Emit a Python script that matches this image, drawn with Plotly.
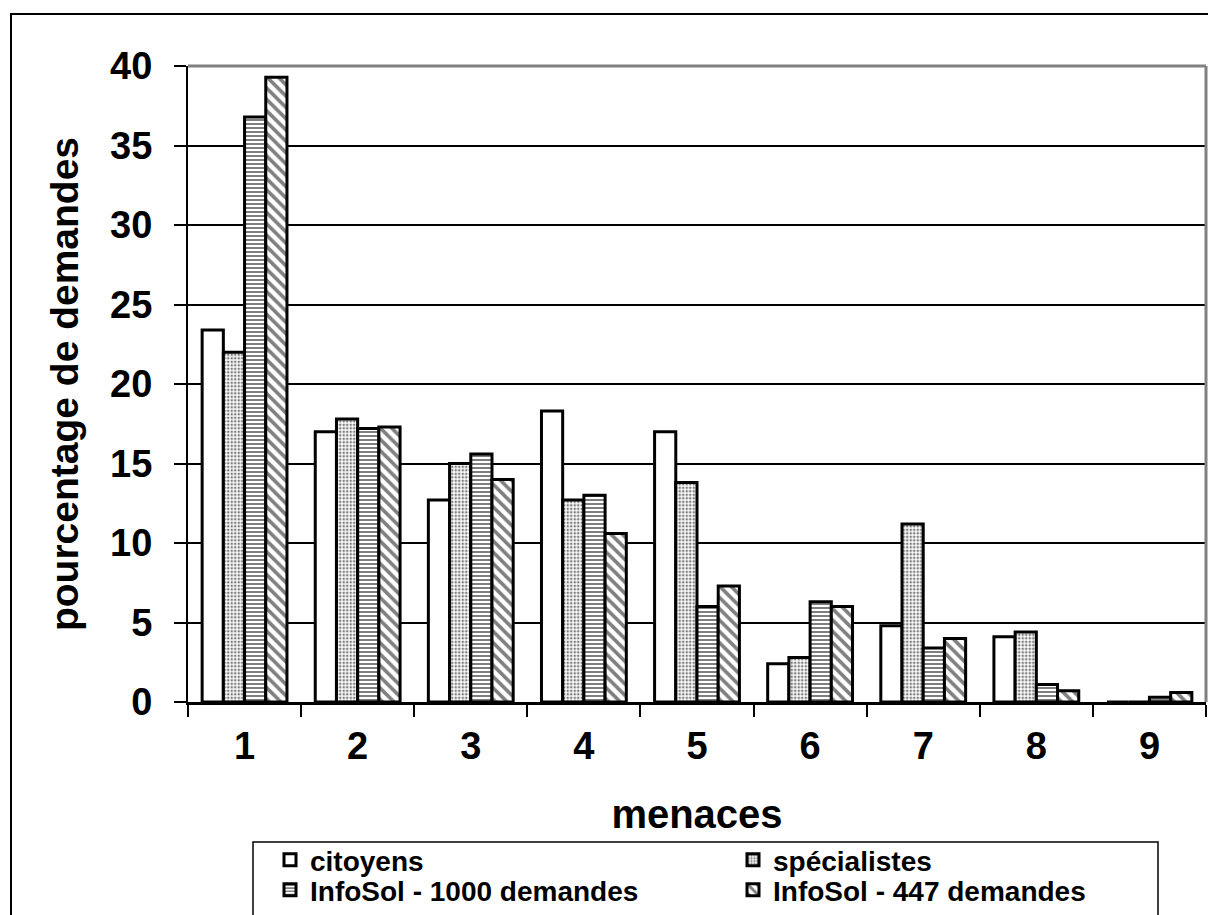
import plotly.graph_objects as go

categories = ["1", "2", "3", "4", "5", "6", "7", "8", "9"]
citoyens = [23.4, 17.0, 12.7, 18.3, 17.0, 2.4, 4.8, 4.1, 0.0]
specialistes = [22.0, 17.8, 15.0, 12.7, 13.8, 2.8, 11.2, 4.4, 0.0]
infosol_1000 = [36.8, 17.2, 15.6, 13.0, 6.0, 6.3, 3.4, 1.1, 0.3]
infosol_447 = [39.3, 17.3, 14.0, 10.6, 7.3, 6.0, 4.0, 0.7, 0.6]
series_names = ["citoyens", "spécialistes", "InfoSol - 1000 demandes", "InfoSol - 447 demandes"]
y_ticks = [0, 5, 10, 15, 20, 25, 30, 35, 40]

FONT = "Liberation Sans, Arial, sans-serif"
W, H = 1208, 915
L, R, T, B = 188, 2, 66, 213
PW, PH = W - L - R, H - T - B


def px_x(p):
    return (p - L) / PW


def px_y(p):
    return (H - B - p) / PH


patterns = [
    dict(shape=""),
    dict(shape=".", fgcolor="black", bgcolor="white", size=3.5, solidity=0.45),
    dict(shape="-", fgcolor="black", bgcolor="white", size=4, solidity=0.5),
    dict(shape="\\", fgcolor="black", bgcolor="white", size=8, solidity=0.45),
]
legend_ids = ["legend", "legend", "legend2", "legend2"]

fig = go.Figure()
for name, vals, pat, lg in zip(series_names, [citoyens, specialistes, infosol_1000, infosol_447], patterns, legend_ids):
    fig.add_trace(go.Bar(
        x=categories, y=vals, name=name, legend=lg,
        marker=dict(color="white", line=dict(color="black", width=3), pattern=pat),
    ))

shapes = [
    # outer frame
    dict(type="rect", xref="paper", yref="paper", x0=px_x(11), x1=1.05, y0=-0.6, y1=px_y(14),
         line=dict(color="black", width=2), fillcolor="rgba(0,0,0,0)", layer="below"),
    # grey top and right border of plot area
    dict(type="line", xref="paper", yref="paper", x0=0, x1=1, y0=1, y1=1,
         line=dict(color="#808080", width=3), layer="above"),
    dict(type="line", xref="paper", yref="paper", x0=1, x1=1, y0=0, y1=1,
         line=dict(color="#808080", width=3), layer="above"),
    # legend box
    dict(type="rect", xref="paper", yref="paper", x0=px_x(253), x1=px_x(1158), y0=-0.6, y1=px_y(842),
         line=dict(color="black", width=1.5), fillcolor="rgba(0,0,0,0)", layer="below"),
]

legend_common = dict(
    orientation="h", xanchor="left", yanchor="top",
    bgcolor="rgba(0,0,0,0)", borderwidth=0,
    font=dict(family=FONT, size=28, color="black", weight="bold"),
    entrywidth=418, entrywidthmode="pixels", traceorder="normal",
    itemwidth=30, tracegroupgap=0,
)

fig.update_layout(
    width=W, height=H,
    margin=dict(l=L, r=R, t=T, b=B, autoexpand=False),
    paper_bgcolor="white", plot_bgcolor="white",
    barmode="group", bargap=0.25, bargroupgap=0,
    font=dict(family=FONT, color="black", weight="bold"),
    shapes=shapes,
    showlegend=True,
    legend=dict(x=px_x(270), y=px_y(835), **legend_common),
    legend2=dict(x=px_x(270), y=px_y(865), **legend_common),
    xaxis=dict(
        type="category", categoryorder="array", categoryarray=categories,
        showline=True, linecolor="black", linewidth=2.5,
        ticks="outside", tickson="boundaries", ticklen=12, tickwidth=2, tickcolor="black",
        tickfont=dict(family=FONT, size=38, color="black", weight="bold"),
        ticklabelstandoff=9,
        title=dict(text="menaces", font=dict(family=FONT, size=40, color="black", weight="bold"), standoff=34),
        showgrid=False, zeroline=False, fixedrange=True,
    ),
    yaxis=dict(
        range=[0, 40], tickvals=y_ticks, ticktext=[str(v) for v in y_ticks],
        showline=True, linecolor="black", linewidth=2,
        ticks="outside", ticklen=12, tickwidth=2, tickcolor="black",
        tickfont=dict(family=FONT, size=38, color="black", weight="bold"),
        ticklabelstandoff=14,
        showgrid=True, gridcolor="black", gridwidth=2,
        zeroline=False, fixedrange=True,
        title=dict(text="pourcentage de demandes", font=dict(family=FONT, size=39, color="black", weight="bold"), standoff=19),
    ),
)

fig.write_html("out.html", config={"displayModeBar": False},
               post_script="document.body.style.margin='0';")
